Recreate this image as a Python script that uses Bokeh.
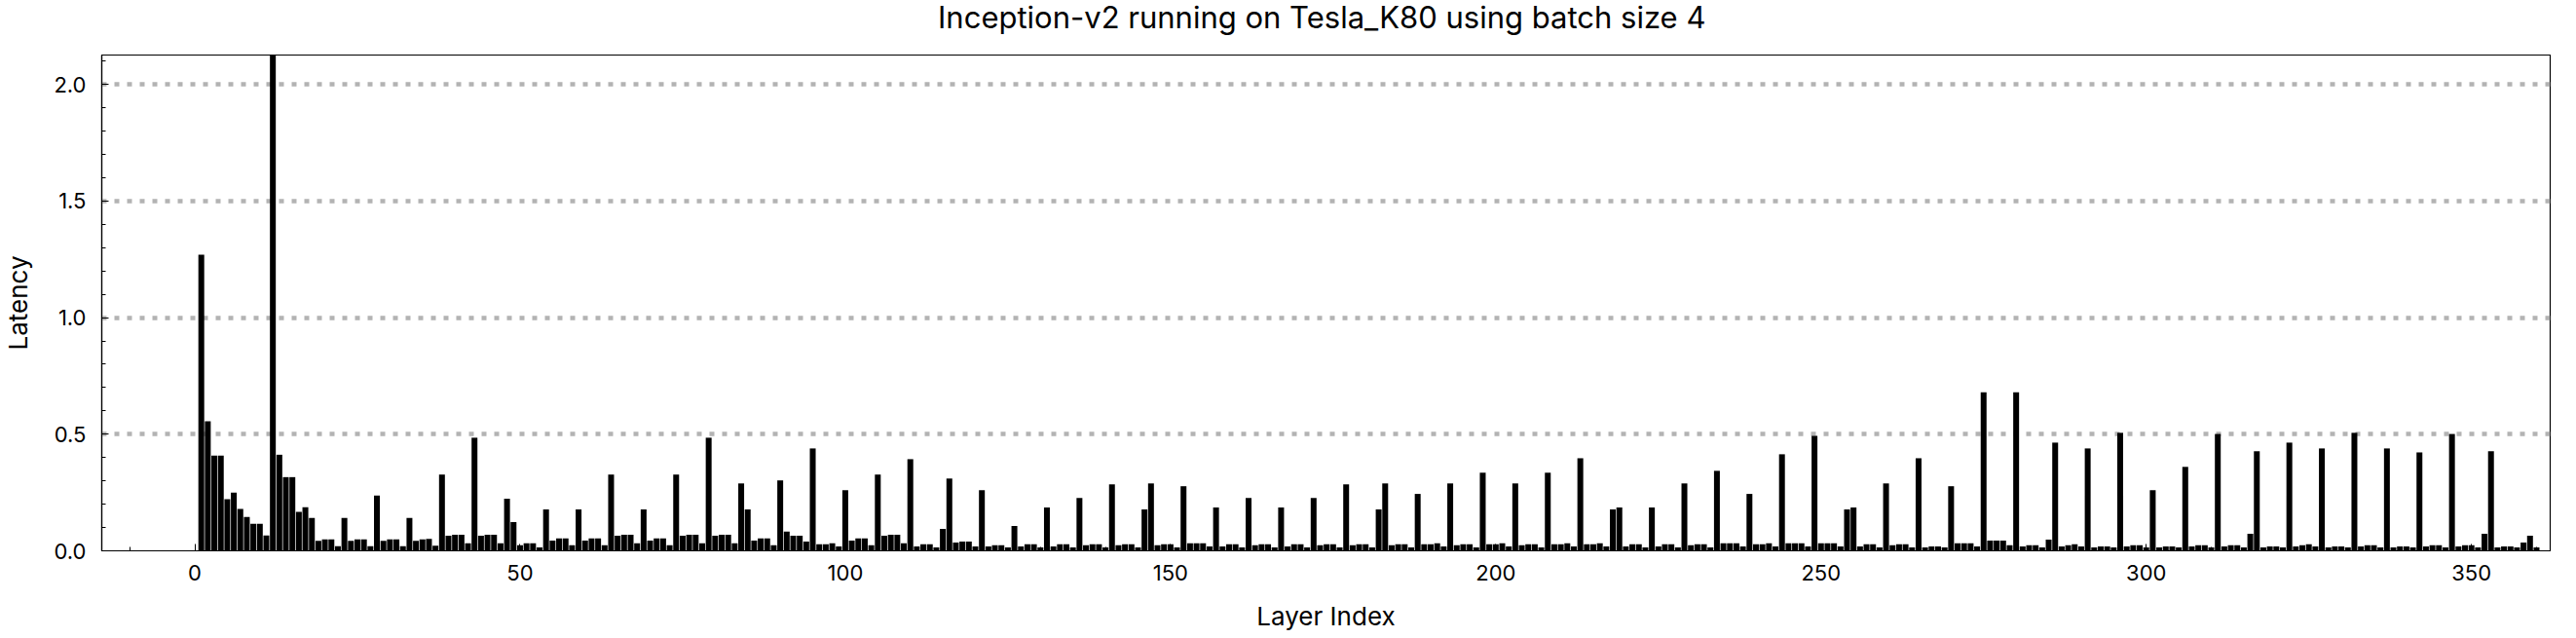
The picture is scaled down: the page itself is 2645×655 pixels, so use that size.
from bokeh.plotting import figure
from bokeh.layouts import column
from bokeh.models import Range1d, SingleIntervalTicker, PrintfTickFormatter
from bokeh.core.properties import value
from bokeh.embed import file_html
from bokeh.resources import INLINE

# Latency per layer (layers 1..360)
lat_001_040 = [1.27, 0.555, 0.408, 0.408, 0.221, 0.25, 0.18, 0.145, 0.116, 0.116,
               0.066, 2.30, 0.412, 0.316, 0.316, 0.167, 0.187, 0.141, 0.043, 0.049,
               0.049, 0.02, 0.141, 0.043, 0.049, 0.049, 0.02, 0.237, 0.043, 0.049,
               0.049, 0.02, 0.141, 0.043, 0.049, 0.051, 0.022, 0.327, 0.065, 0.069]
lat_041_080 = [0.069, 0.032, 0.485, 0.065, 0.069, 0.069, 0.032, 0.223, 0.123, 0.024,
               0.032, 0.032, 0.015, 0.177, 0.044, 0.053, 0.053, 0.024, 0.177, 0.044,
               0.053, 0.053, 0.024, 0.327, 0.065, 0.069, 0.069, 0.032, 0.177, 0.044,
               0.053, 0.053, 0.024, 0.327, 0.065, 0.069, 0.069, 0.032, 0.485, 0.065]
lat_081_120 = [0.069, 0.069, 0.032, 0.289, 0.177, 0.044, 0.053, 0.053, 0.024, 0.302,
               0.082, 0.065, 0.065, 0.040, 0.439, 0.028, 0.028, 0.032, 0.019, 0.26,
               0.044, 0.053, 0.053, 0.024, 0.327, 0.065, 0.069, 0.069, 0.032, 0.393,
               0.019, 0.028, 0.028, 0.015, 0.094, 0.31, 0.036, 0.040, 0.040, 0.019]
lat_121_160 = [0.26, 0.019, 0.024, 0.024, 0.015, 0.107, 0.019, 0.028, 0.028, 0.015,
               0.186, 0.019, 0.028, 0.028, 0.015, 0.227, 0.024, 0.028, 0.028, 0.015,
               0.285, 0.024, 0.028, 0.028, 0.015, 0.177, 0.289, 0.024, 0.028, 0.028,
               0.015, 0.277, 0.032, 0.032, 0.032, 0.019, 0.186, 0.019, 0.028, 0.028]
lat_161_200 = [0.015, 0.227, 0.024, 0.028, 0.028, 0.015, 0.186, 0.019, 0.028, 0.028,
               0.015, 0.227, 0.024, 0.028, 0.028, 0.015, 0.285, 0.024, 0.028, 0.028,
               0.015, 0.177, 0.289, 0.024, 0.028, 0.028, 0.015, 0.244, 0.028, 0.028,
               0.032, 0.019, 0.289, 0.024, 0.028, 0.028, 0.015, 0.335, 0.028, 0.028]
lat_201_240 = [0.032, 0.019, 0.289, 0.024, 0.028, 0.028, 0.015, 0.335, 0.028, 0.028,
               0.032, 0.019, 0.397, 0.028, 0.028, 0.032, 0.019, 0.177, 0.186, 0.019,
               0.028, 0.028, 0.015, 0.186, 0.019, 0.028, 0.028, 0.015, 0.289, 0.024,
               0.028, 0.028, 0.015, 0.343, 0.032, 0.032, 0.032, 0.019, 0.244, 0.028]
lat_241_280 = [0.028, 0.032, 0.019, 0.414, 0.032, 0.032, 0.032, 0.019, 0.493, 0.032,
               0.032, 0.032, 0.019, 0.177, 0.186, 0.019, 0.028, 0.028, 0.015, 0.289,
               0.024, 0.028, 0.028, 0.015, 0.397, 0.015, 0.019, 0.019, 0.015, 0.277,
               0.032, 0.032, 0.032, 0.019, 0.68, 0.044, 0.044, 0.044, 0.024, 0.68]
lat_281_320 = [0.019, 0.024, 0.024, 0.015, 0.048, 0.464, 0.019, 0.024, 0.028, 0.019,
               0.439, 0.015, 0.019, 0.019, 0.015, 0.506, 0.019, 0.024, 0.024, 0.015,
               0.26, 0.015, 0.019, 0.019, 0.015, 0.36, 0.019, 0.024, 0.024, 0.015,
               0.501, 0.019, 0.024, 0.024, 0.015, 0.073, 0.427, 0.015, 0.019, 0.019]
lat_321_360 = [0.015, 0.464, 0.019, 0.024, 0.028, 0.019, 0.439, 0.015, 0.019, 0.019,
               0.015, 0.506, 0.019, 0.024, 0.024, 0.015, 0.439, 0.015, 0.019, 0.019,
               0.015, 0.422, 0.019, 0.024, 0.024, 0.015, 0.501, 0.019, 0.024, 0.024,
               0.015, 0.073, 0.427, 0.015, 0.019, 0.019, 0.015, 0.036, 0.065, 0.015]

latency = (lat_001_040 + lat_041_080 + lat_081_120 + lat_121_160 + lat_161_200 +
           lat_201_240 + lat_241_280 + lat_281_320 + lat_321_360)
layer_index = list(range(1, len(latency) + 1))

TITLE = "Inception-v2 running on Tesla_K80 using batch size 4"
X_LABEL = "Layer Index"
Y_LABEL = "Latency"
FONT = "Inter"

W, H = 2645, 655
TOP = 56                      # height of the title strip = top of the plot frame
BL, BR, BB = 93, 27, 90

# ---- title strip (separate small figure so the title can sit high) ----
t = figure(width=W, height=TOP, output_backend="svg", toolbar_location=None,
           x_range=Range1d(0, W), y_range=Range1d(0, TOP),
           min_border=0, min_border_left=0, min_border_right=0,
           min_border_top=0, min_border_bottom=0)
t.axis.visible = False
t.grid.visible = False
t.outline_line_color = None
t.background_fill_color = "white"
t.border_fill_color = "white"
t.text(x=[1318], y=[TOP - 17], text=[TITLE], text_align="center",
       text_baseline="middle", text_font=value(FONT), text_font_size="31px",
       text_color="black")

# ---- main chart ----
p = figure(width=W, height=H - TOP, output_backend="svg", toolbar_location=None,
           x_range=Range1d(-14.3, 362.1), y_range=Range1d(0, 2.126),
           min_border_left=BL, min_border_right=BR, min_border_top=0,
           min_border_bottom=BB)

p.vbar(x=layer_index, top=latency, width=0.9, fill_color="black", line_color=None)

p.xgrid.visible = False
p.ygrid.grid_line_color = "#b3b3b3"
p.ygrid.grid_line_width = 4.5
p.ygrid.grid_line_dash = "5 8"

p.outline_line_color = "black"
p.outline_line_width = 1.2
p.background_fill_color = "white"
p.border_fill_color = "white"

p.xaxis.ticker = SingleIntervalTicker(interval=50, num_minor_ticks=5)
p.yaxis.ticker = SingleIntervalTicker(interval=0.5, num_minor_ticks=5)
p.yaxis.formatter = PrintfTickFormatter(format="%.1f")

for ax in (p.xaxis[0], p.yaxis[0]):
    ax.axis_line_color = "black"
    ax.axis_line_width = 1.2
    ax.major_tick_in = 7
    ax.major_tick_out = 0
    ax.minor_tick_in = 4
    ax.minor_tick_out = 0
    ax.major_tick_line_color = "black"
    ax.minor_tick_line_color = "black"
    ax.major_label_text_font = FONT
    ax.major_label_text_font_size = "22px"
    ax.major_label_text_color = "black"
    ax.axis_label_text_font = FONT
    ax.axis_label_text_font_size = "26px"
    ax.axis_label_text_font_style = "normal"
    ax.axis_label_text_color = "black"

p.xaxis.axis_label = X_LABEL
p.yaxis.axis_label = Y_LABEL
p.xaxis.major_label_standoff = 14
p.xaxis.axis_label_standoff = 18
p.yaxis.major_label_standoff = 16
p.yaxis.axis_label_standoff = 18

layout = column(t, p, spacing=0)

open("out.html", "w").write(file_html(layout, INLINE))
